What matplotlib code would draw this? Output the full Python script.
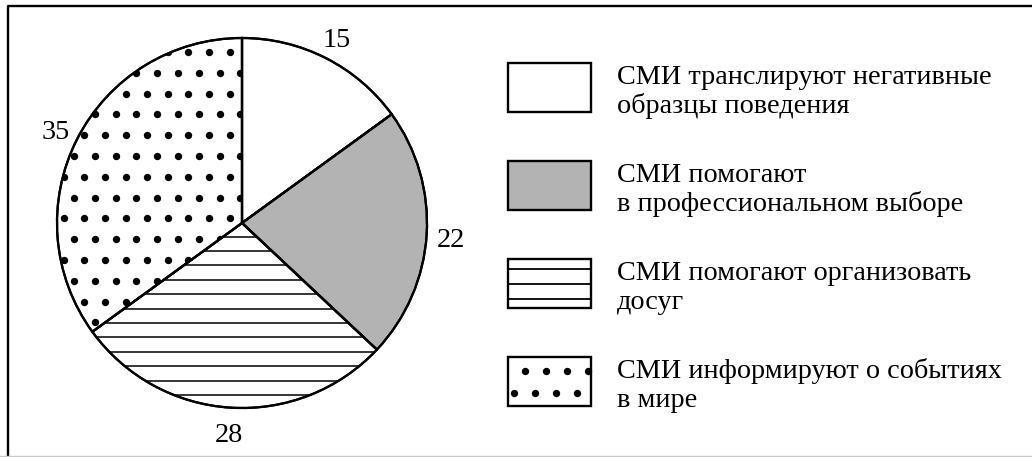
import numpy as np
import matplotlib
matplotlib.use("Agg")
import matplotlib.pyplot as plt
from matplotlib.patches import Rectangle, Wedge

# ---- data ----
values = [15, 22, 28, 35]
value_labels = ["15", "22", "28", "35"]
categories = [
    "СМИ транслируют негативные\nобразцы поведения",
    "СМИ помогают\nв профессиональном выборе",
    "СМИ помогают организовать\nдосуг",
    "СМИ информируют о событиях\nв мире",
]
fills = ["white", "#b3b3b3", "white", "white"]
patterns = [None, None, "lines", "dots"]

W, H, DPI = 1032, 457, 100
FONT = "Liberation Serif"
FS = 20.3

fig = plt.figure(figsize=(W / DPI, H / DPI), dpi=DPI)
fig.patch.set_facecolor("white")

# background axes in pixel coordinates (frame + legend)
bg = fig.add_axes([0, 0, 1, 1])
bg.set_xlim(0, W)
bg.set_ylim(H, 0)
bg.axis("off")
bg.plot([8, 8, W + 5], [H + 5, 6, 6], color="black", lw=1.7, solid_capstyle="projecting")
bg.plot([0, W], [455.5, 455.5], color="#c8c8c8", lw=1.0)

# ---- pie ----
cx, cy, R = 242, 223, 185
lim = 1.06
side = R * lim
pax = fig.add_axes([(cx - side) / W, (H - cy - side) / H, 2 * side / W, 2 * side / H])
wedges, texts = pax.pie(
    values,
    labels=value_labels,
    colors=fills,
    startangle=90,
    counterclock=False,
    labeldistance=1.13,
    wedgeprops=dict(edgecolor="black", linewidth=1.6),
    textprops=dict(ha="center", va="center", fontsize=FS, family=FONT),
)
pax.set_xlim(-lim, lim)
pax.set_ylim(-lim, lim)
pax.set_aspect("equal")
pax.axis("off")
for t in texts:
    t.set_clip_on(False)
    x, y = t.get_position()
    t.set_position((x, y - 4.0 / R))

# pattern fills clipped to wedges
line_step = 14.4 / R
dot_step = 20.8 / R
for w, pat in zip(wedges, patterns):
    if pat == "lines":
        ys = -0.074 - line_step * np.arange(0, 16)
        for y in ys:
            ln, = pax.plot([-1.1, 1.1], [y, y], color="black", lw=1.1, zorder=w.get_zorder() + 0.1)
            ln.set_clip_path(w)
    elif pat == "dots":
        xs, ys = [], []
        for i in range(-12, 12):
            y = 0.0254 + dot_step * i
            off = -0.065 if i % 2 == 0 else -0.065 + dot_step / 2
            for j in range(-12, 12):
                xs.append(off + dot_step * j)
                ys.append(y)
        sc = pax.scatter(xs, ys, s=28, color="black", linewidths=0, zorder=w.get_zorder() + 0.1)
        sc.set_clip_path(w)
# redraw wedge edges on top
for w in wedges:
    w2 = Wedge(w.center, w.r, w.theta1, w.theta2,
               facecolor="none", edgecolor="black", linewidth=1.6, zorder=5)
    pax.add_patch(w2)

# ---- legend (drawn manually) ----
box_x0, box_w, box_h = 508, 83, 49
tops = [63, 161, 259, 357]
text_x = 617
for top, cat, fc, pat in zip(tops, categories, fills, patterns):
    bg.add_patch(Rectangle((box_x0, top), box_w, box_h, facecolor=fc, edgecolor="none", zorder=2))
    if pat == "lines":
        for dy in (10, 25, 40):
            bg.plot([box_x0, box_x0 + box_w], [top + dy, top + dy], color="black", lw=1.3, zorder=3)
    elif pat == "dots":
        dx_a = [17, 38, 59, 80]
        dx_b = [6, 27, 48, 69]
        bg.scatter([box_x0 + d for d in dx_a], [top + 14] * 4, s=28, color="black", linewidths=0, zorder=3)
        bg.scatter([box_x0 + d for d in dx_b], [top + 36] * 4, s=28, color="black", linewidths=0, zorder=3)
    bg.add_patch(Rectangle((box_x0, top), box_w, box_h, facecolor="none", edgecolor="black", lw=1.7, zorder=4))
    for k, line in enumerate(cat.split("\n")):
        bg.text(text_x, top + 20.5 + 29.5 * k, line, fontsize=FS, family=FONT,
                ha="left", va="baseline", color="black")

fig.savefig("out.png", dpi=DPI, facecolor="white")
